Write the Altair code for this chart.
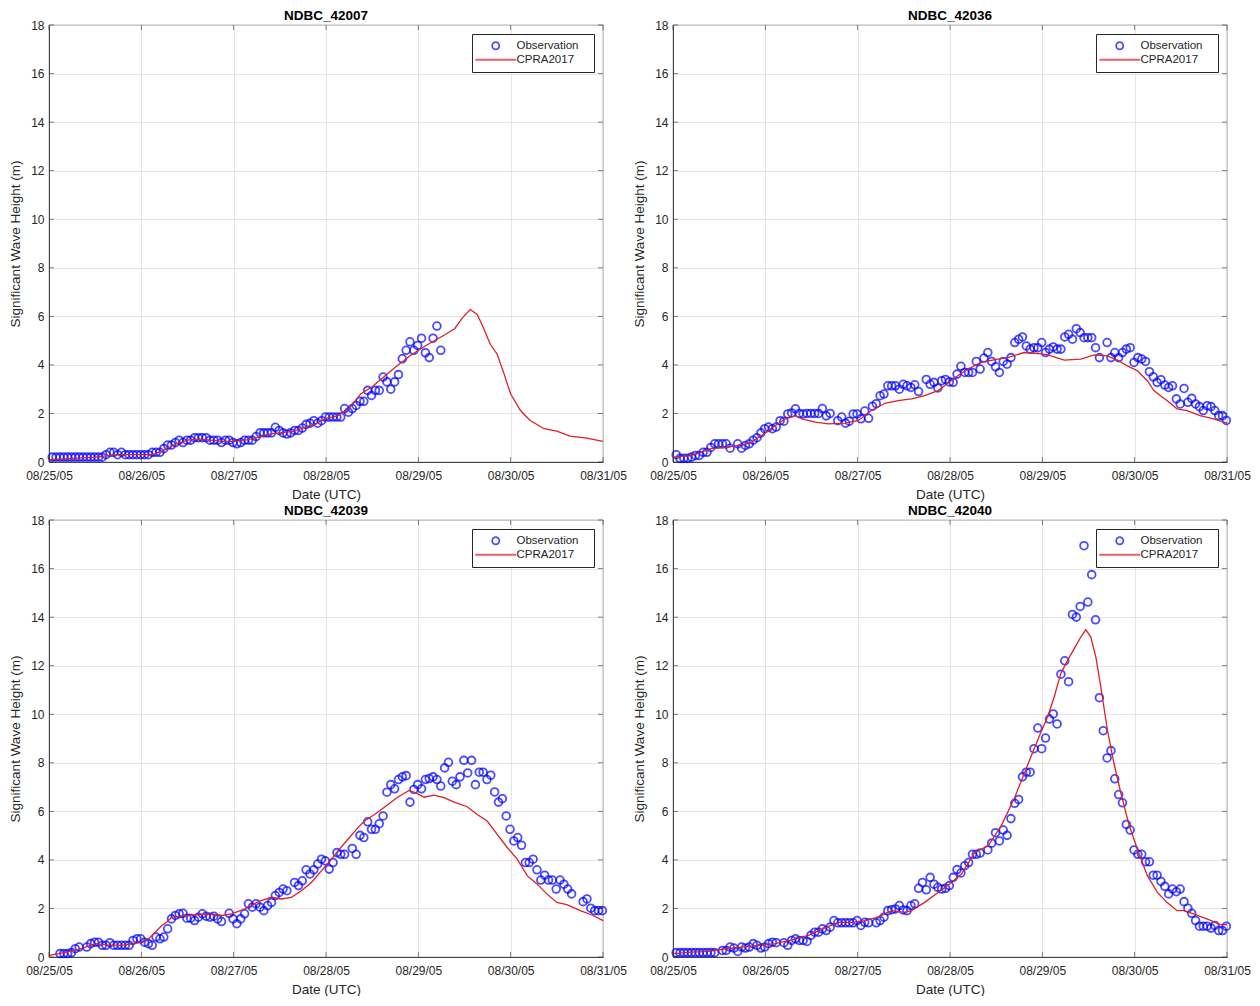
import altair as alt
import pandas as pd

BASE = pd.Timestamp("2005-08-25 00:00")

stations = ["NDBC_42007", "NDBC_42036", "NDBC_42039", "NDBC_42040"]
series_names = ["Observation", "CPRA2017"]
tick_days = [25, 26, 27, 28, 29, 30, 31]
y_ticks = [0, 2, 4, 6, 8, 10, 12, 14, 16, 18]

# Observations: hourly values (reported at hh:50), starting at 08/25 00:50; None = missing
obs_42007 = [
    0.2, 0.2, 0.2, 0.2, 0.2, 0.2, 0.2, 0.2, 0.2, 0.2, 0.2, 0.2, 0.2, 0.2,
    0.3, 0.4, 0.4, 0.3, 0.4, 0.3,
    0.3, 0.3, 0.3, 0.3, 0.3, 0.3,
    0.4, 0.4, 0.4,
    0.55, 0.7, 0.7, 0.8, 0.9, 0.8, 0.9, 0.9, 1.0, 1.0, 1.0, 1.0,
    0.9, 0.9, 0.9, 0.8, 0.9, 0.9, 0.8, 0.75, 0.8, 0.9, 0.9, 0.9,
    1.05, 1.2, 1.2, 1.2, 1.2, 1.43, 1.3, 1.2, 1.15, 1.2, 1.3, 1.3, 1.4, 1.55, 1.6, 1.7, 1.6, 1.7,
    1.85, 1.85, 1.85, 1.85, 1.85,
    2.2, 2.05, 2.2, 2.33, 2.5, 2.5, 2.95, 2.74, 2.95, 2.95, 3.5, 3.3, 3.0, 3.3, 3.6,
    4.25, 4.6, 4.95, 4.6, 4.8, 5.1, 4.5, 4.3, 5.1, 5.6, 4.6,
]

obs_42036 = [
    0.3, 0.15, 0.15, 0.15, 0.2, 0.27, 0.27, 0.4, 0.4, 0.6,
    0.75, 0.75, 0.75, 0.75, 0.57, None, 0.75, 0.57, 0.68, 0.75,
    0.9, 1.0, 1.2, 1.37, 1.44, 1.37, 1.44, 1.7, 1.68, 1.98,
    2.02, 2.19, 2.0, 1.98, 2.0, 2.0, 2.0, 2.0, 2.2, 1.9,
    2.0, None, 1.7, 1.85, 1.6, 1.68, 1.98, 1.98, 1.78, 2.1,
    1.8, 2.3, 2.4, 2.73, 2.8, 3.14, 3.14, 3.14, 3.0, 3.2,
    3.14, 3.07, 3.18, 2.9, None, 3.4, 3.2, 3.28, 3.05, 3.35,
    3.4, 3.3, 3.28, 3.62, 3.94, 3.69, 3.69, 3.69, 4.14, 3.83,
    4.28, 4.51, 4.14, 3.92, 3.69, 4.14, 4.03, 4.3, 4.92, 5.06,
    5.15, 4.78, 4.65, 4.71, 4.71, 4.92, 4.51, 4.65, 4.74, 4.65,
    4.65, 5.15, 5.26, 5.06, 5.49, 5.33, 5.12, 5.12, 5.12, 4.71,
    4.3, None, 4.92, 4.3, 4.51, 4.3, 4.51, 4.65, 4.71, 4.1,
    4.3, 4.24, 4.14, 3.72, 3.51, 3.28, 3.39, 3.17, 3.07, 3.14,
    2.6, 2.39, 3.03, 2.46, 2.62, 2.39, 2.28, 2.12, 2.32, 2.28,
    2.12, 1.91, 1.91, 1.71,
]

obs_42039 = [
    None, None, 0.14, 0.14, 0.14, 0.18, 0.34, 0.41, None, 0.41,
    0.55, 0.61, 0.61, 0.48, 0.48, 0.59, 0.48, 0.48, 0.48, 0.48,
    0.48, 0.68, 0.75, 0.75, 0.61, 0.55, 0.48, 0.82, 0.75, 0.82,
    1.16, 1.57, 1.71, 1.78, 1.8, 1.6, 1.6, 1.5, 1.64, 1.78,
    1.68, 1.64, 1.68, 1.57, 1.46, None, 1.8, 1.57, 1.37, 1.57,
    1.78, 2.19, 2.05, 2.19, 2.05, 1.91, 2.12, 2.25, 2.53, 2.66,
    2.8, 2.73, None, 3.07, 2.94, 3.14, 3.59, 3.42, 3.59, 3.83,
    4.03, 3.96, 3.62, 3.89, 4.3, 4.23, 4.23, None, 4.47, 4.23,
    5.01, 4.92, 5.57, 5.26, 5.26, 5.49, 5.81, 6.79, 7.1, 6.93,
    7.31, 7.42, 7.47, 6.38, 6.9, 7.1, 6.93, 7.31, 7.35, 7.42,
    7.31, 7.04, 7.79, 8.02, 7.24, 7.1, 7.42, 8.1, 7.58, 8.1,
    7.1, 7.61, 7.61, 7.31, 7.49, 6.8, 6.38, 6.52, 5.81, 5.26,
    4.78, 4.92, 4.6, 3.89, 3.89, 4.03, 3.59, 3.17, 3.37, 3.17,
    3.17, 2.8, 3.17, 3.0, 2.8, 2.6, None, None, 2.28, 2.39,
    2.01, 1.91, 1.91, 1.91,
]

obs_42040 = [
    0.18, 0.18, 0.18, 0.18, 0.18, 0.18, 0.18, 0.18, 0.18, 0.18,
    0.18, None, 0.27, 0.27, 0.41, 0.37, 0.23, 0.41, 0.37, 0.41,
    0.55, 0.48, 0.37, 0.41, 0.55, 0.61, 0.59, None, 0.59, 0.48,
    0.68, 0.75, 0.68, 0.68, 0.64, 0.89, 1.02, 1.02, 1.16, 1.09,
    1.23, 1.5, 1.41, 1.41, 1.41, 1.41, 1.41, 1.5, 1.3, 1.43,
    1.41, None, 1.41, 1.5, 1.64, 1.91, 1.95, 1.98, 2.12, 1.94,
    1.91, 2.12, 2.19, 2.83, 3.07, 2.77, 3.28, 3.0, 2.87, 2.8,
    2.83, 2.94, 3.28, 3.6, 3.46, 3.76, 3.89, 4.23, 4.23, 4.28,
    None, 4.41, 4.69, 5.12, 4.78, 5.23, 5.01, 5.7, 6.33, 6.49,
    7.42, 7.61, 7.61, 8.58, 9.43, 8.58, 9.02, 9.8, 10.01, 9.6,
    11.65, 12.2, 11.34, 14.11, 14.0, 14.44, 16.94, 14.62, 15.75, 13.89,
    10.68, 9.32, 8.2, 8.5, 7.34, 6.69, 6.35, 5.46, 5.23, 4.41,
    4.23, 4.23, 3.92, 3.92, 3.37, 3.37, 3.11, 2.91, 2.6, 2.8,
    2.69, 2.8, 2.28, 2.01, 1.8, 1.5, 1.27, 1.27, 1.27, 1.19,
    1.3, 1.09, 1.09, 1.27,
]

# Model (CPRA2017): hours since 08/25 00:00 and values
mod_42007_h = [0, 6, 12, 18, 24, 27, 30, 33, 36, 39, 42, 45, 48, 51, 54, 57, 60, 63, 66, 69,
               72, 75, 78, 81, 84, 87, 90, 94, 98, 103, 105.5, 107.5, 109.5, 111.3, 113,
               114.7, 116.5, 118.3, 120, 122.5, 125, 128.7, 132, 135.4, 139.8, 144]
mod_42007_v = [0.1, 0.15, 0.2, 0.3, 0.3, 0.3, 0.5, 0.75, 0.9, 0.95, 0.9, 0.85, 0.85, 0.9, 1.0,
               1.15, 1.2, 1.25, 1.4, 1.55, 1.8, 1.9, 2.2, 2.8, 3.1, 3.5, 3.9, 4.4, 4.8, 5.25,
               5.5, 5.95, 6.28, 6.08, 5.5, 4.85, 4.44, 3.62, 2.8, 2.13, 1.72, 1.37, 1.27, 1.07,
               0.98, 0.85]

mod_42036_h = [0, 5, 10, 14, 16, 20, 23, 26.6, 29.2, 31.8, 33.5, 37, 40.4, 44.7, 48.2, 51.6,
               55.1, 58.5, 62, 65.4, 68.9, 71.5, 74, 76.7, 80.1, 84.4, 87, 91.3, 94.8, 97.4,
               101.7, 106, 109.5, 112.9, 115.5, 118.1, 120.7, 123.3, 125, 126.7, 128.4, 131,
               133.6, 137, 140.5, 144]
mod_42036_v = [0.2, 0.27, 0.55, 0.6, 0.65, 0.78, 1.09, 1.5, 1.78, 1.91, 1.78, 1.64, 1.57, 1.6,
               1.71, 2.12, 2.42, 2.53, 2.6, 2.73, 2.94, 3.25, 3.55, 3.83, 4.1, 4.24, 4.3, 4.51,
               4.47, 4.41, 4.2, 4.24, 4.41, 4.37, 4.2, 3.96, 3.76, 3.35, 2.94, 2.73, 2.53, 2.19,
               2.12, 1.91, 1.78, 1.6]

mod_42039_h = [0, 2.6, 7.8, 12.1, 14.7, 19, 23.3, 25.9, 27.6, 29.3, 30.6, 31.9, 34.5, 38, 41.4,
               44.9, 47.5, 50.9, 54.4, 57.8, 60.4, 63, 65.6, 68.2, 70.8, 73.3, 75.1, 77.7, 80.3,
               82, 84.6, 87.6, 90.6, 93.6, 95.4, 97.5, 100.1, 102.7, 105.3, 108.7, 111.3, 113.9,
               116.5, 119.1, 121.7, 124.3, 126.9, 129.4, 132, 134.6, 138.1, 141.5, 144]
mod_42039_v = [0.07, 0.14, 0.31, 0.55, 0.5, 0.48, 0.59, 0.75, 1.02, 1.3, 1.43, 1.64, 1.68, 1.73,
               1.78, 1.71, 1.78, 1.98, 2.28, 2.46, 2.39, 2.46, 2.73, 3.07, 3.55, 4.0, 4.37, 4.85,
               5.33, 5.6, 5.87, 6.22, 6.58, 6.86, 6.76, 6.58, 6.67, 6.56, 6.38, 6.19, 5.87, 5.6,
               5.05, 4.51, 4.03, 3.35, 3.0, 2.6, 2.25, 2.16, 1.91, 1.71, 1.5]

mod_42040_h = [0, 5, 9.3, 13.7, 17.9, 22.3, 26.6, 30.9, 35.2, 39.5, 43, 46.4, 49.9, 53.3, 56.8,
               60.2, 62, 65.4, 68.9, 71.5, 75, 78.4, 81.9, 85.3, 88.8, 92.2, 95.7, 97.4, 99.1,
               100.8, 102.6, 104.3, 106, 107.3, 108.6, 109.9, 111.2, 112.9, 114.6, 116.4, 118.5,
               120.7, 123.3, 125.9, 128.4, 131, 132.8, 135.3, 138.8, 142.3, 144]
mod_42040_v = [0.14, 0.2, 0.23, 0.34, 0.41, 0.48, 0.55, 0.71, 0.89, 1.2, 1.43, 1.43, 1.5, 1.64,
               1.91, 1.84, 1.91, 2.25, 2.66, 2.96, 3.42, 4.3, 4.58, 5.4, 6.56, 7.92, 9.29, 9.9,
               10.72, 11.68, 12.23, 12.7, 13.18, 13.48, 13.18, 12.36, 11.13, 9.36, 7.99, 6.76,
               5.46, 4.44, 3.35, 2.66, 2.25, 1.91, 1.91, 1.78, 1.57, 1.33, 1.33]

panels = [
    (stations[0], obs_42007, mod_42007_h, mod_42007_v),
    (stations[1], obs_42036, mod_42036_h, mod_42036_v),
    (stations[2], obs_42039, mod_42039_h, mod_42039_v),
    (stations[3], obs_42040, mod_42040_h, mod_42040_v),
]

FONT = "Liberation Sans"
TXT = "#262626"
W, H = 554, 437
TICK = 5


def to_time(hours, minutes=0):
    return [(BASE + pd.Timedelta(hours=h, minutes=minutes)).strftime("%Y-%m-%dT%H:%M:%S") for h in hours]


def make_panel(name, obs, mh, mv):
    oh = [i for i, v in enumerate(obs) if v is not None]
    ov = [v for v in obs if v is not None]
    obs_df = pd.DataFrame({"t": to_time(oh, 50), "v": ov, "series": series_names[0]})
    mod_df = pd.DataFrame({"t": to_time(mh), "v": mv, "series": series_names[1]})
    xt_df = pd.DataFrame({"t": [pd.Timestamp(2005, 8, d).strftime("%Y-%m-%dT%H:%M:%S") for d in tick_days]})
    yt_df = pd.DataFrame({"v": y_ticks})

    x = alt.X(
        "t:T",
        scale=alt.Scale(domain=[alt.DateTime(year=2005, month=8, date=25),
                                alt.DateTime(year=2005, month=8, date=31)]),
        axis=alt.Axis(
            values=[alt.DateTime(year=2005, month=8, date=d) for d in tick_days],
            format="%m/%d/%y", title="Date (UTC)", labelPadding=8, titlePadding=6,
            ticks=False, labelFlush=False, labelOverlap=False, labelBound=False,
        ),
    )
    y = alt.Y(
        "v:Q",
        scale=alt.Scale(domain=[0, 18], nice=False),
        axis=alt.Axis(values=y_ticks, title="Significant Wave Height (m)",
                      labelPadding=5, titlePadding=8, ticks=False, labelFlush=False),
    )
    legend = alt.Legend(
        title=None, orient="top-right", offset=9, padding=6,
        strokeColor=TXT, fillColor="white", symbolSize=50, symbolOffset=12,
        labelOffset=15, labelFontSize=11.5, labelColor=TXT, symbolStrokeWidth=1.8,
        rowPadding=0, cornerRadius=0,
        labelExpr="datum.label + '\u2800'",
    )
    color = alt.Color("series:N", scale=alt.Scale(domain=series_names, range=["#0000ff", "#dd1f26"]),
                      legend=legend)
    shape = alt.Shape("series:N", scale=alt.Scale(domain=series_names, range=["circle", "M-5.8,0L5.8,0"]),
                      legend=legend)

    # inward box ticks (MATLAB style) on all four sides
    xt_base = alt.Chart(xt_df).mark_tick(color=TXT, thickness=0.8, size=TICK)
    xt_bot = xt_base.encode(x=x, y=alt.value(H - TICK / 2))
    xt_top = xt_base.encode(x=x, y=alt.value(TICK / 2))
    yt_base = alt.Chart(yt_df).mark_tick(color=TXT, thickness=0.8, size=TICK, orient="horizontal")
    yt_left = yt_base.encode(y=y, x=alt.value(TICK / 2))
    yt_right = yt_base.encode(y=y, x=alt.value(W - TICK / 2))

    pts = alt.Chart(obs_df).mark_point(filled=False, size=60, strokeWidth=1.8).encode(
        x=x, y=y, color=color, shape=shape)
    line = alt.Chart(mod_df).mark_line(strokeWidth=1.3).encode(x=x, y=y, color=color)
    return alt.layer(pts, line, xt_bot, xt_top, yt_left, yt_right).properties(
        width=W, height=H,
        title=alt.TitleParams(name, fontSize=13.5, fontWeight="bold", color="black", offset=-3),
    )


charts = [make_panel(*p) for p in panels]

chart = alt.concat(*charts, columns=2, spacing={"row": 2, "column": 5}).resolve_scale(
    color="independent", shape="independent"
).resolve_legend(
    color="independent", shape="independent"
).properties(
    padding={"left": 0, "top": 0, "right": 0, "bottom": 0}
).configure(
    font=FONT,
).configure_axis(
    labelFontSize=12, labelColor=TXT, titleFontSize=13.5, titleFontWeight="normal",
    titleColor=TXT, gridColor="#dedede", gridWidth=0.8, domainColor=TXT, domainWidth=0.8,
    labelFont=FONT, titleFont=FONT,
).configure_view(
    stroke=TXT, strokeWidth=0.8,
).configure_legend(
    labelFont=FONT,
)

chart.save("out.html", embed_options={"renderer": "svg", "actions": False})
